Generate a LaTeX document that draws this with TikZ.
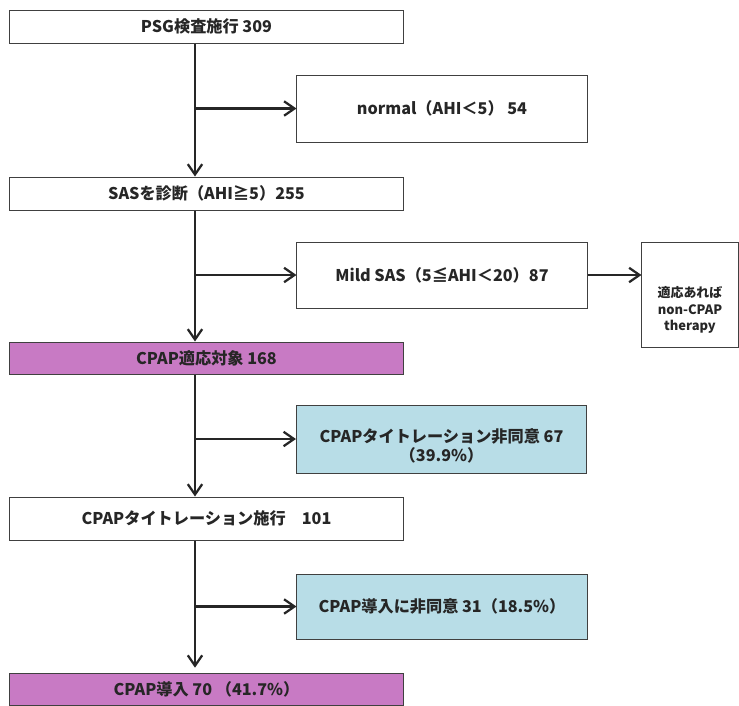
\documentclass[tikz,border=0pt]{standalone}
\usepackage{fontspec}
\setmainfont{Noto Sans CJK JP}
\usepackage{tikz}
\usetikzlibrary{positioning,arrows.meta}

\definecolor{tgtpink}{RGB}{200,122,196}
\definecolor{refblue}{RGB}{184,221,231}

\begin{document}
\begin{tikzpicture}[x=0.025cm,y=-0.025cm,
    box/.style={draw=black!75,line width=0.7pt,inner sep=0pt,text=black!85,
      font=\fontsize{11.5}{10.5}\selectfont\bfseries,align=center},
    mainbox/.style={box,minimum width=9.825cm},
    sidebox/.style={box,minimum width=7.25cm},
    pinkbox/.style={mainbox,fill=tgtpink},
    bluebox/.style={sidebox,fill=refblue},
    flow/.style={line width=1.6pt,draw=black!85,
      -{Straight Barb[length=2.6mm,width=3.6mm,line width=1.6pt]}}]

  \useasboundingbox (0,0) rectangle (739,706);

  % Main column
  \node[mainbox,minimum height=0.825cm] (psg) at (206.5,26.5) {PSG検査施行 309};
  \node[mainbox,minimum height=0.825cm] (sas) at (206.5,193.5) {SASを診断（AHI≧5）255};
  \node[pinkbox,minimum height=0.8cm] (target) at (206.5,358) {CPAP適応対象 168};
  \node[mainbox,minimum height=1.075cm] (titr) at (206.5,518.5) {CPAPタイトレーション施行　101};
  \node[pinkbox,minimum height=0.8cm] (intro) at (206.5,689) {CPAP導入 70 （41.7\%）};

  % Side boxes
  \node[sidebox,minimum height=1.675cm] (normal) at (442,108.5) {normal（AHI＜5） 54};
  \node[sidebox,minimum height=1.65cm] (mild) at (442,275) {Mild SAS（5≦AHI＜20）87};
  \node[bluebox,minimum height=1.7cm] (refuse1) at (441.5,439)
    {\raisebox{-3.1mm}[0pt][0pt]{\begin{tabular}{@{}c@{}}CPAPタイトレーション非同意 67\\（39.9\%）\end{tabular}}};
  \node[bluebox,minimum height=1.625cm] (refuse2) at (442,606.5) {CPAP導入に非同意 31（18.5\%）};

  % Far right box
  \node[box,minimum width=2.4cm,minimum height=2.625cm] (nonc) at (690,294.5) {};
  \node[text=black!85,font=\fontsize{9.2}{12}\selectfont\bfseries,align=center] (nonctext) at (690,310)
    {適応あれば\\non-CPAP\\therapy};

  % Trunk
  \coordinate (trunk) at (195,0);

  \draw[flow] (psg.south -| trunk) -- (sas.north -| trunk);
  \draw[flow] (trunk |- normal.west) -- (normal.west);

  \draw[flow] (sas.south -| trunk) -- (target.north -| trunk);
  \draw[flow] (trunk |- mild.west) -- (mild.west);
  \draw[flow] (mild.east) -- (nonc.west |- mild.east);

  \draw[flow] (target.south -| trunk) -- (titr.north -| trunk);
  \draw[flow] (trunk |- refuse1.west) -- (refuse1.west);

  \draw[flow] (titr.south -| trunk) -- ([yshift=1.2mm]intro.north -| trunk);
  \draw[flow] (trunk |- refuse2.west) -- (refuse2.west);

\end{tikzpicture}
\end{document}
